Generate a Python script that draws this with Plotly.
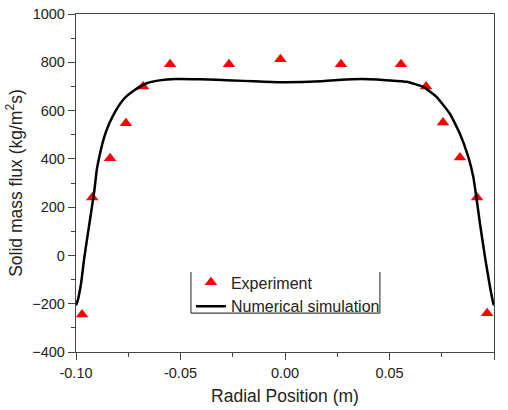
import plotly.graph_objects as go

# experiment points (triangles)
exp_x = [-0.0971, -0.0922, -0.0837, -0.0761, -0.0679, -0.0550, -0.0268, -0.0022,
         0.0268, 0.0555, 0.0675, 0.0756, 0.0837, 0.0919, 0.0967]
exp_y = [-245, 240, 402, 547, 700, 792, 792, 813,
         792, 792, 700, 551, 406, 240, -240]

# numerical simulation curve
sim_x = [-0.1000, -0.0992, -0.0976, -0.0960, -0.0936, -0.0912, -0.0901, -0.0885,
         -0.0865, -0.0841, -0.0809, -0.0769, -0.0721, -0.0665, -0.0601, -0.0522,
         -0.0407, -0.0250, -0.0148, -0.0020, 0.0172, 0.0268, 0.0400, 0.0502,
         0.0582, 0.0662, 0.0726, 0.0789, 0.0837, 0.0877, 0.0901, 0.0920,
         0.0933, 0.0957, 0.0981, 0.0997, 0.1000]
sim_y = [-207, -187, -117, -7, 131, 270, 352, 422,
         490, 546, 601, 650, 684, 712, 725, 731,
         730, 725, 721, 717, 721, 728, 730, 725,
         719, 698, 656, 587, 504, 408, 325, 214,
         131, -7, -131, -200, -207]

x_ticks = [-0.10, -0.05, 0.00, 0.05, 0.10]
x_labels = ["-0.10", "-0.05", "0.00", "0.05", "0.10"]
y_ticks = [-400, -200, 0, 200, 400, 600, 800, 1000]

FONT = "Liberation Sans, Arial, sans-serif"
AXIS = "#444444"
TEXT = "#222222"

fig = go.Figure()

fig.add_trace(go.Scatter(
    x=exp_x, y=exp_y,
    mode="markers",
    name="Experiment",
    marker=dict(symbol="triangle-up", size=11, color="#FF0000"),
))

fig.add_trace(go.Scatter(
    x=sim_x, y=sim_y,
    mode="lines",
    name="Numerical simulation",
    line=dict(color="black", width=2.5, shape="spline", smoothing=0.4),
))

axis_common = dict(
    showline=True, linecolor=AXIS, linewidth=1.3, mirror=True,
    showgrid=False, zeroline=False, automargin=False,
    ticks="outside", ticklen=7, tickwidth=1.3, tickcolor=AXIS,
    tickfont=dict(size=14.5, color=TEXT, family=FONT),
)

fig.update_xaxes(
    range=[-0.10, 0.10], tickvals=x_ticks, ticktext=x_labels,
    title=dict(text="Radial Position (m)", font=dict(size=17.5, color=TEXT, family=FONT), standoff=10),
    minor=dict(ticks="outside", ticklen=4, tickwidth=1.3, tickcolor=AXIS, dtick=0.025, tick0=0),
    **axis_common,
)
fig.update_yaxes(
    range=[-400, 1000], tickvals=y_ticks,
    title=dict(text="Solid mass flux (kg/m<sup>2</sup>s)", font=dict(size=17.5, color=TEXT, family=FONT), standoff=5),
    minor=dict(ticks="outside", ticklen=4, tickwidth=1.3, tickcolor=AXIS, dtick=100, tick0=0),
    **axis_common,
)

# legend frame: left, right, bottom lines only (no top line)
lx0, lx1, ly0, ly1 = 0.275, 0.727, 0.115, 0.237
for x0, y0, x1, y1 in [(lx0, ly0, lx0, ly1), (lx1, ly0, lx1, ly1), (lx0, ly0, lx1, ly0)]:
    fig.add_shape(type="line", xref="paper", yref="paper", x0=x0, y0=y0, x1=x1, y1=y1,
                  line=dict(color=AXIS, width=1.2))

fig.update_layout(
    width=508, height=410,
    paper_bgcolor="white", plot_bgcolor="white",
    font=dict(family=FONT, color=TEXT),
    margin=dict(l=76, r=14, t=14, b=58),
    showlegend=True,
    legend=dict(
        x=0.275, y=0.256, xanchor="left", yanchor="top",
        bgcolor="rgba(0,0,0,0)", borderwidth=0,
        font=dict(size=16, color=TEXT, family=FONT),
        tracegroupgap=0, itemwidth=30,
    ),
)

# drop the default 8px page margin so the figure sits at the window corner
fig.write_html(
    "out.html",
    config={"displayModeBar": False},
    post_script="document.body.style.margin='0';document.body.style.overflow='hidden';",
)
